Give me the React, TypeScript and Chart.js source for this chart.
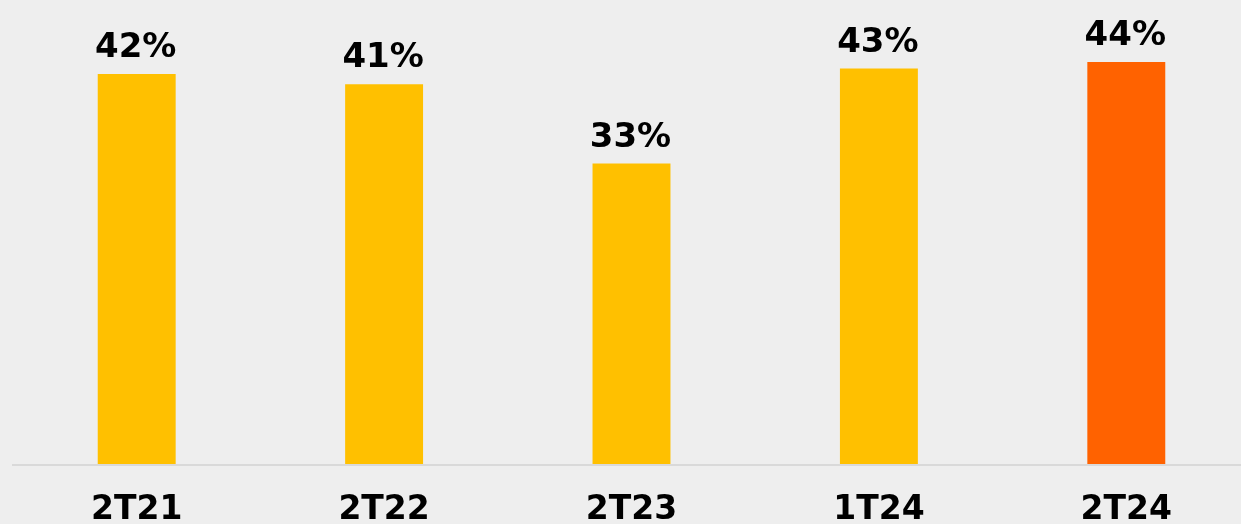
import React, { useEffect, useRef } from "react";
import { Chart, registerables } from "chart.js";

Chart.register(...registerables);

const categories = ["2T21", "2T22", "2T23", "1T24", "2T24"];
const values = [42.4, 41.3, 32.7, 43.0, 43.7];
const barColors = ["#FFC000", "#FFC000", "#FFC000", "#FFC000", "#FF6200"];

const FONT = "'DejaVu Sans', Verdana, sans-serif";

const valueLabels = {
  id: "valueLabels",
  afterDatasetsDraw(chart: any) {
    const ctx = chart.ctx;
    const meta = chart.getDatasetMeta(0);
    ctx.save();
    ctx.font = `bold 34px ${FONT}`;
    ctx.fillStyle = "#000000";
    ctx.textAlign = "center";
    ctx.textBaseline = "alphabetic";
    meta.data.forEach((bar: any, i: number) => {
      ctx.fillText(`${Math.round(values[i])}%`, bar.x - 1, bar.y - 17);
    });
    ctx.restore();
  },
};

export default function App() {
  const ref = useRef<HTMLCanvasElement | null>(null);
  useEffect(() => {
    if (!ref.current) return;
    const chart = new Chart(ref.current, {
      type: "bar",
      data: {
        labels: categories,
        datasets: [
          {
            data: values,
            backgroundColor: barColors,
            borderWidth: 0,
            barPercentage: 0.315,
            categoryPercentage: 1,
          },
        ],
      },
      options: {
        responsive: false,
        animation: false,
        layout: { padding: { top: 4, left: 13, right: 0, bottom: 0 } },
        plugins: {
          legend: { display: false },
          tooltip: { enabled: false },
        },
        scales: {
          x: {
            grid: { display: false, drawTicks: false },
            border: { display: true, color: "#D9D9D9", width: 2, z: 1 },
            ticks: {
              color: "#000000",
              font: { family: FONT, size: 33, weight: "bold", lineHeight: 1 },
              padding: 29,
              maxRotation: 0,
              autoSkip: false,
            },
          },
          y: {
            display: false,
            min: 0,
            max: 50,
          },
        },
      },
      plugins: [valueLabels],
    });
    return () => chart.destroy();
  }, []);
  return (
    <div
      style={{
        position: "fixed",
        left: 0,
        top: 0,
        width: 1241,
        height: 524,
        overflow: "hidden",
        background: "#EEEEEE",
      }}
    >
      <canvas ref={ref} width={1250} height={556} style={{ display: "block", width: 1250, height: 556 }} />
    </div>
  );
}
